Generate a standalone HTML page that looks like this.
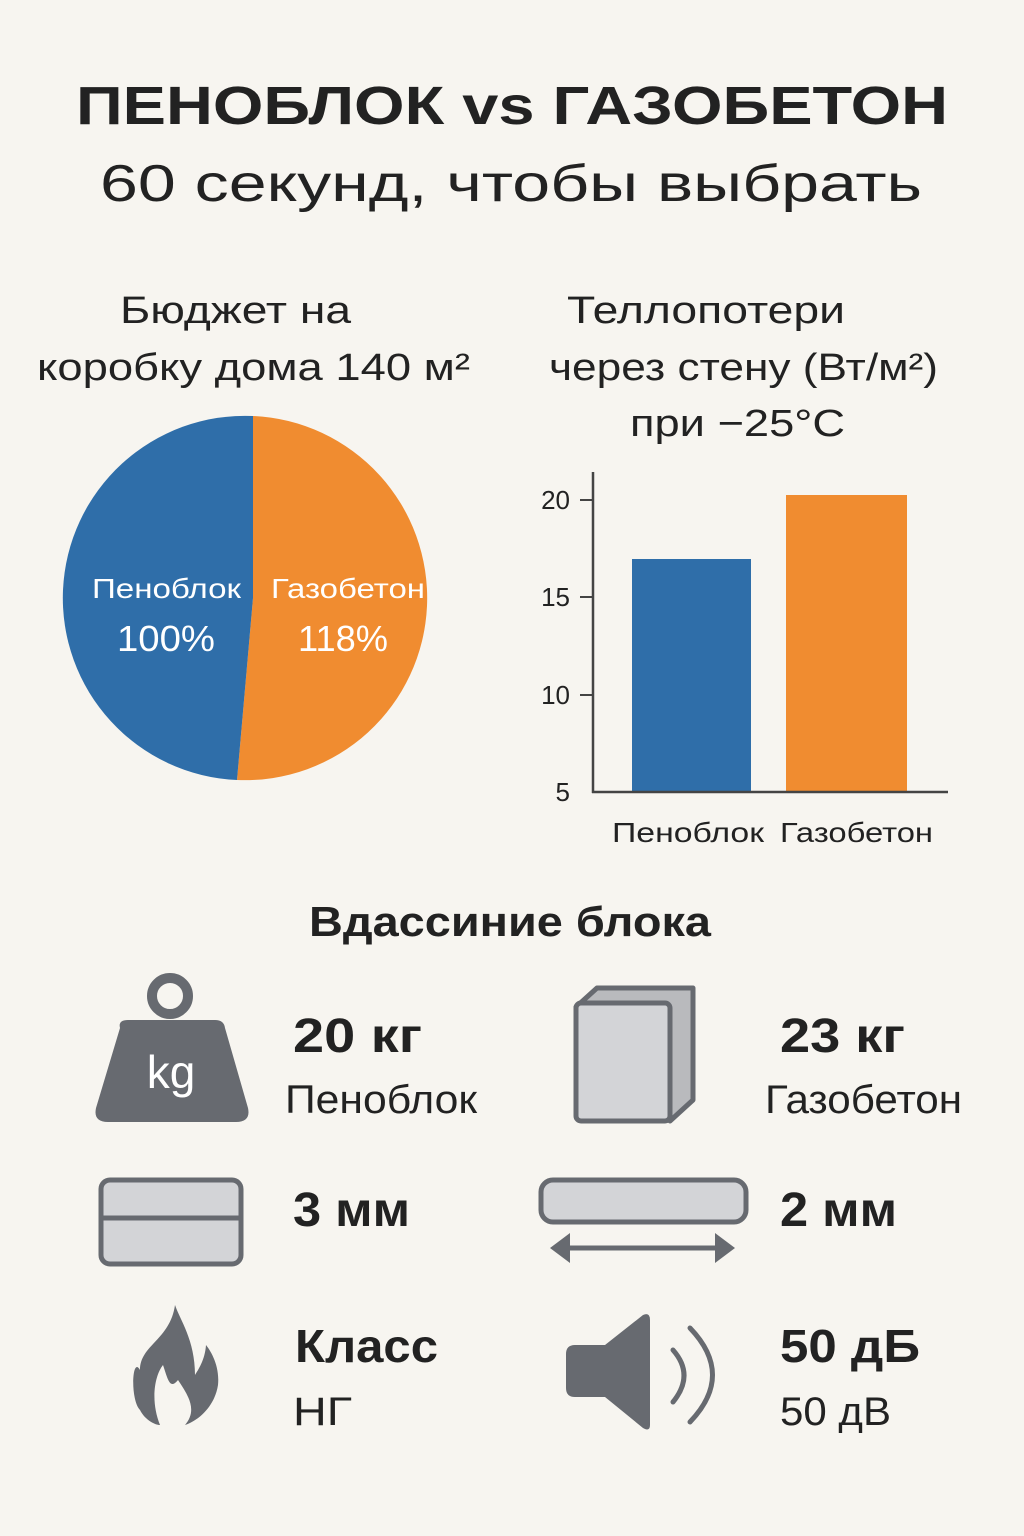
<!DOCTYPE html>
<html><head><meta charset="utf-8"><style>
html,body{margin:0;padding:0;background:#f7f5f0;}
svg{display:block;font-family:"Liberation Sans","DejaVu Sans",sans-serif;}
</style></head><body>
<svg width="1024" height="1536" viewBox="0 0 1024 1536" xmlns="http://www.w3.org/2000/svg">
<rect width="1024" height="1536" fill="#f7f5f0"/>
<text x="76" y="124" textLength="872" lengthAdjust="spacingAndGlyphs" font-size="54" font-weight="bold" fill="#222">ПЕНОБЛОК vs  ГАЗОБЕТОН</text>
<text x="100" y="201" textLength="822" lengthAdjust="spacingAndGlyphs" font-size="52" fill="#222">60 секунд, чтобы выбрать</text>

<text x="120" y="323" textLength="231" lengthAdjust="spacingAndGlyphs" font-size="38" fill="#222">Бюджет на</text>
<text x="37" y="380" textLength="433" lengthAdjust="spacingAndGlyphs" font-size="38" fill="#222">коробку дома 140 м²</text>

<path d="M253,598 L253,416 A182,182 0 1 1 237,780 Z" fill="#f08c30"/>
<path d="M253,598 L237,780 A182,182 0 0 1 253,416 Z" fill="#2f6ea9"/>
<text x="92" y="598" textLength="149" lengthAdjust="spacingAndGlyphs" font-size="28" fill="#fff">Пеноблок</text>
<text x="117" y="651" textLength="98" lengthAdjust="spacingAndGlyphs" font-size="36" fill="#fff">100%</text>
<text x="271" y="598" textLength="154" lengthAdjust="spacingAndGlyphs" font-size="28" fill="#fff">Газобетон</text>
<text x="298" y="651" textLength="90" lengthAdjust="spacingAndGlyphs" font-size="36" fill="#fff">118%</text>

<text x="567" y="323" textLength="278" lengthAdjust="spacingAndGlyphs" font-size="38" fill="#222">Теллопотери</text>
<text x="549" y="380" textLength="389" lengthAdjust="spacingAndGlyphs" font-size="38" fill="#222">через стену (Вт/м²)</text>
<text x="630" y="436" textLength="215" lengthAdjust="spacingAndGlyphs" font-size="38" fill="#222">при −25°С</text>

<rect x="632" y="559" width="119" height="233" fill="#2f6ea9"/>
<rect x="786" y="495" width="121" height="297" fill="#f08c30"/>
<line x1="593" y1="472" x2="593" y2="793" stroke="#444" stroke-width="2.5"/>
<line x1="592" y1="792" x2="948" y2="792" stroke="#444" stroke-width="2.5"/>
<g stroke="#444" stroke-width="2"><line x1="580" y1="500" x2="593" y2="500"/><line x1="580" y1="597" x2="593" y2="597"/><line x1="580" y1="695" x2="593" y2="695"/></g>
<g font-size="26" fill="#222" text-anchor="end">
<text x="570" y="509">20</text><text x="570" y="606">15</text><text x="570" y="704">10</text><text x="570" y="801">5</text></g>
<text x="612" y="842" textLength="152" lengthAdjust="spacingAndGlyphs" font-size="28" fill="#222">Пеноблок</text>
<text x="780" y="842" textLength="153" lengthAdjust="spacingAndGlyphs" font-size="28" fill="#222">Газобетон</text>

<text x="309" y="936" textLength="402" lengthAdjust="spacingAndGlyphs" font-size="42" font-weight="bold" fill="#222">Вдассиние блока</text>

<circle cx="170" cy="996" r="18" fill="none" stroke="#676a70" stroke-width="10"/>
<path d="M120,1028 Q118,1020 128,1020 L215,1020 Q224,1020 225,1028 L248,1108 Q251,1122 236,1122 L108,1122 Q93,1122 96,1108 Z" fill="#676a70"/>
<text x="171" y="1088" text-anchor="middle" font-size="46" fill="#fff">kg</text>
<text x="293" y="1052" textLength="129" lengthAdjust="spacingAndGlyphs" font-size="48" font-weight="bold" fill="#222">20 кг</text>
<text x="285" y="1113" textLength="192" lengthAdjust="spacingAndGlyphs" font-size="40" fill="#222">Пеноблок</text>

<path d="M576,1007 L597,988 L693,988 L693,1100 L670,1121 Z" fill="#b9babd" stroke="#676a70" stroke-width="5" stroke-linejoin="round"/>
<rect x="576" y="1003" width="94" height="118" rx="5" fill="#d3d4d7" stroke="#676a70" stroke-width="5"/>
<text x="780" y="1052" textLength="125" lengthAdjust="spacingAndGlyphs" font-size="48" font-weight="bold" fill="#222">23 кг</text>
<text x="765" y="1113" textLength="197" lengthAdjust="spacingAndGlyphs" font-size="40" fill="#222">Газобетон</text>

<rect x="101" y="1180" width="140" height="84" rx="9" fill="#d3d4d7" stroke="#676a70" stroke-width="5"/>
<line x1="101" y1="1218" x2="241" y2="1218" stroke="#676a70" stroke-width="5"/>
<text x="293" y="1226" textLength="117" lengthAdjust="spacingAndGlyphs" font-size="48" font-weight="bold" fill="#222">3 мм</text>
<rect x="541" y="1180" width="205" height="42" rx="12" fill="#d3d4d7" stroke="#676a70" stroke-width="5"/>
<line x1="565" y1="1248" x2="715" y2="1248" stroke="#676a70" stroke-width="5"/>
<path d="M550,1248 L570,1233 L570,1263 Z M735,1248 L715,1233 L715,1263 Z" fill="#676a70"/>
<text x="780" y="1226" textLength="117" lengthAdjust="spacingAndGlyphs" font-size="48" font-weight="bold" fill="#222">2 мм</text>

<path d="M175,1305 C170,1340 140,1345 140,1370 C132,1355 130,1400 140,1410 C145,1420 155,1425 160,1425 C150,1400 155,1375 163,1365 C168,1380 170,1390 178,1380 C188,1395 198,1410 185,1425 C200,1420 215,1405 218,1385 C220,1365 210,1350 206,1345 C205,1360 198,1370 195,1375 C195,1340 180,1320 175,1305 Z" fill="#676a70"/>
<text x="295" y="1362" textLength="143" lengthAdjust="spacingAndGlyphs" font-size="46" font-weight="bold" fill="#222">Класс</text>
<text x="293" y="1425" textLength="59" lengthAdjust="spacingAndGlyphs" font-size="40" fill="#222">НГ</text>

<path d="M575,1345 L605,1345 L643,1315 Q650,1312 650,1320 L650,1425 Q650,1432 643,1428 L605,1397 L575,1397 Q566,1397 566,1388 L566,1354 Q566,1345 575,1345 Z" fill="#676a70"/>
<path d="M673,1350 Q695,1375 673,1402" fill="none" stroke="#676a70" stroke-width="5" stroke-linecap="round"/>
<path d="M690,1328 Q735,1375 690,1422" fill="none" stroke="#676a70" stroke-width="5" stroke-linecap="round"/>
<text x="780" y="1362" textLength="140" lengthAdjust="spacingAndGlyphs" font-size="46" font-weight="bold" fill="#222">50 дБ</text>
<text x="780" y="1425" textLength="111" lengthAdjust="spacingAndGlyphs" font-size="40" fill="#222">50 дВ</text>
</svg>
</body></html>
